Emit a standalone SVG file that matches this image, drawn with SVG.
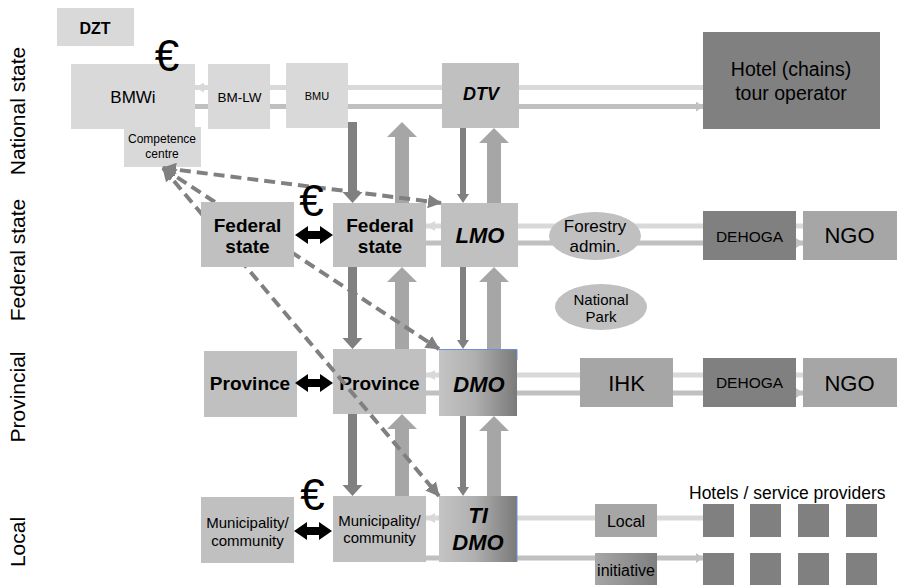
<svg xmlns="http://www.w3.org/2000/svg" width="897" height="585" viewBox="0 0 897 585">
  <defs>
    <style>
      text { font-family: "Liberation Sans", Arial, sans-serif; fill: #000; }
      .c { text-anchor: middle; }
      .b { font-weight: bold; }
      .bi { font-weight: bold; font-style: italic; }
      .pale { fill: #d9d9d9; }
      .mid { fill: #c0c0c0; }
      .grey { fill: #a6a6a6; }
      .dark { fill: #808080; }
      .lnLight { stroke: #d9d9d9; stroke-width: 5; fill: none; }
      .lnMid { stroke: #c0c0c0; stroke-width: 5; fill: none; }
      .down { fill: #808080; }
      .up { fill: #a6a6a6; }
      .dash { stroke: #808080; stroke-width: 4; stroke-dasharray: 11 6; fill: none; }
      .euro { font-size: 44px; text-anchor: middle; }
      .tier { font-size: 21px; text-anchor: middle; }
    </style>
    <linearGradient id="gradDmo" x1="0" y1="0" x2="1" y2="0">
      <stop offset="0" stop-color="#c4c4c4"/>
      <stop offset="0.45" stop-color="#b0b0b0"/>
      <stop offset="1" stop-color="#7a7a7a"/>
    </linearGradient>
    <linearGradient id="gradInit" x1="0" y1="0" x2="1" y2="0">
      <stop offset="0" stop-color="#a6a6a6"/>
      <stop offset="1" stop-color="#7f7f7f"/>
    </linearGradient>
    <marker id="headLight" markerUnits="userSpaceOnUse" viewBox="0 0 9 10" refX="9" refY="5" markerWidth="9" markerHeight="10" orient="auto-start-reverse">
      <path d="M0,0 L9,5 L0,10 Z" fill="#d9d9d9"/>
    </marker>
    <marker id="headMid" markerUnits="userSpaceOnUse" viewBox="0 0 7 10" refX="7" refY="5" markerWidth="7" markerHeight="10" orient="auto">
      <path d="M0,0 L7,5 L0,10 Z" fill="#c0c0c0"/>
    </marker>
    <marker id="headDash" markerUnits="userSpaceOnUse" viewBox="0 0 14 14" refX="13" refY="7" markerWidth="14" markerHeight="14" orient="auto-start-reverse">
      <path d="M0,0 L14,7 L0,14 Z" fill="#808080"/>
    </marker>
    <path id="twoWay" d="M-19,0 L-6,-9 V-4 H6 V-9 L19,0 L6,9 V4 H-6 V9 Z" fill="#000"/>
  </defs>

  <rect width="897" height="585" fill="#fff"/>

  <!-- tier labels -->
  <g id="tiers">
    <text class="tier" transform="translate(25,111) rotate(-90)">National state</text>
    <text class="tier" transform="translate(25,260) rotate(-90)">Federal state</text>
    <text class="tier" transform="translate(25,397) rotate(-90)">Provincial</text>
    <text class="tier" transform="translate(25,542) rotate(-90)">Local</text>
  </g>

  <!-- horizontal flows -->
  <g id="flows">
    <line class="lnLight" x1="195" y1="87.5" x2="703" y2="87.5" marker-start="url(#headLight)"/>
    <line class="lnMid" x1="195" y1="106.5" x2="703" y2="106.5" marker-end="url(#headMid)"/>
    <line class="lnLight" x1="426" y1="226" x2="803" y2="226" marker-start="url(#headLight)"/>
    <line class="lnMid" x1="426" y1="243" x2="803" y2="243" marker-end="url(#headMid)"/>
    <line class="lnLight" x1="426" y1="375" x2="803" y2="375" marker-start="url(#headLight)"/>
    <line class="lnMid" x1="426" y1="393" x2="803" y2="393" marker-end="url(#headMid)"/>
    <line class="lnLight" x1="426" y1="518" x2="703" y2="518" marker-start="url(#headLight)"/>
    <line class="lnMid" x1="426" y1="558" x2="703" y2="558" marker-end="url(#headMid)"/>
  </g>

  <!-- national level -->
  <g id="dzt"><rect class="pale" x="57" y="8" width="77" height="38"/><text class="c b" x="95" y="34" font-size="16">DZT</text></g>
  <g id="bmwi"><rect class="pale" x="71" y="64" width="124" height="65"/><text class="c" x="133" y="103" font-size="17">BMWi</text></g>
  <g id="bmlw"><rect class="pale" x="208" y="64" width="62" height="65"/><text class="c" x="239.5" y="102" font-size="13.5">BM-LW</text></g>
  <g id="bmu"><rect class="pale" x="286" y="63" width="62" height="65"/><text class="c" x="317" y="100" font-size="11">BMU</text></g>
  <g id="competence"><rect class="pale" x="124" y="127" width="77" height="40"/><text class="c" x="162" y="143" font-size="12">Competence</text><text class="c" x="162" y="158" font-size="12">centre</text></g>
  <g id="dtv"><rect class="mid" x="442" y="63" width="77" height="65"/><text class="c bi" x="481" y="100" font-size="18">DTV</text></g>
  <g id="hotel"><rect class="dark" x="703" y="32" width="177" height="97"/><text class="c" x="791" y="76" font-size="19.5">Hotel (chains)</text><text class="c" x="791" y="100" font-size="19.5">tour operator</text></g>

  <!-- federal state level -->
  <g id="federal-center"><rect class="mid" x="333" y="203" width="93" height="64"/><text class="c b" x="380" y="232" font-size="19">Federal</text><text class="c b" x="380" y="253" font-size="19">state</text></g>
  <g id="lmo"><rect class="mid" x="441" y="203" width="77" height="64"/><text class="c bi" x="480" y="243" font-size="22">LMO</text></g>
  <g id="forestry"><ellipse class="mid" cx="595" cy="236" rx="46" ry="24"/><text class="c" x="595" y="232" font-size="17">Forestry</text><text class="c" x="595" y="252" font-size="17">admin.</text></g>
  <g id="national-park"><ellipse class="mid" cx="601" cy="307" rx="46" ry="23"/><text class="c" x="601" y="305" font-size="15">National</text><text class="c" x="601" y="322" font-size="15">Park</text></g>
  <g id="dehoga-federal"><rect class="dark" x="703" y="211" width="93" height="49"/><text class="c" x="749.5" y="242" font-size="15.5">DEHOGA</text></g>
  <g id="ngo-federal"><rect class="grey" x="803" y="211" width="94" height="49"/><text class="c" x="849.5" y="243" font-size="22">NGO</text></g>

  <!-- provincial level -->
  <g id="province-left"><rect class="mid" x="204" y="351" width="93" height="66"/><text class="c b" x="250" y="390" font-size="19">Province</text></g>
  <g id="province-center"><rect class="mid" x="333" y="349" width="93" height="65"/><text class="c b" x="379.5" y="390" font-size="19">Province</text></g>
  <g id="dmo"><rect x="439" y="349" width="78" height="67" fill="url(#gradDmo)"/><path d="M439,349.5 H517 V360" stroke="#6f8fd8" stroke-width="1" fill="none"/><text class="c bi" x="479" y="392" font-size="22">DMO</text></g>
  <g id="ihk"><rect class="grey" x="580" y="358" width="93" height="49"/><text class="c" x="626.5" y="391" font-size="22">IHK</text></g>
  <g id="dehoga-provincial"><rect class="dark" x="703" y="358" width="93" height="49"/><text class="c" x="749.5" y="388" font-size="15.5">DEHOGA</text></g>
  <g id="ngo-provincial"><rect class="grey" x="803" y="358" width="94" height="49"/><text class="c" x="849.5" y="391" font-size="22">NGO</text></g>

  <!-- local level -->
  <g id="municipality-left"><rect class="mid" x="201" y="497" width="93" height="66"/><text class="c" x="247.5" y="528" font-size="15">Municipality/</text><text class="c" x="247.5" y="546" font-size="15">community</text></g>
  <g id="municipality-center"><rect class="mid" x="333" y="496" width="93" height="66"/><text class="c" x="379.5" y="526" font-size="15">Municipality/</text><text class="c" x="379.5" y="543" font-size="15">community</text></g>
  <g id="ti-dmo"><rect x="439" y="496" width="78" height="66" fill="url(#gradDmo)"/><line x1="517" y1="496" x2="517" y2="562" stroke="#6f8fd8" stroke-width="1"/><text class="c bi" x="478" y="523" font-size="22">TI</text><text class="c bi" x="478" y="550" font-size="22">DMO</text></g>
  <g id="local-box"><rect class="grey" x="595" y="504" width="62" height="33"/><text class="c" x="626" y="527" font-size="16">Local</text></g>
  <g id="initiative-box"><rect x="595" y="553" width="62" height="32" fill="url(#gradInit)"/><text class="c" x="626" y="576" font-size="16">initiative</text></g>
  <g id="providers">
    <text x="689" y="499" font-size="17.5">Hotels / service providers</text>
    <rect class="dark" x="703" y="504" width="31" height="33"/>
    <rect class="dark" x="750" y="504" width="31" height="33"/>
    <rect class="dark" x="798" y="504" width="31" height="33"/>
    <rect class="dark" x="846" y="504" width="31" height="33"/>
    <rect class="dark" x="703" y="553" width="31" height="32"/>
    <rect class="dark" x="750" y="553" width="31" height="32"/>
    <rect class="dark" x="798" y="553" width="31" height="32"/>
    <rect class="dark" x="846" y="553" width="31" height="32"/>
  </g>

  <!-- vertical funding / reporting arrows, bilateral links, dashed links -->
  <g id="connectors">
    <path class="down" d="M348,122 H357 V192 H362.5 L352.5,203 L342.5,192 H348 Z"/>
    <path class="down" d="M348,267 H357 V338 H362.5 L352.5,349 L342.5,338 H348 Z"/>
    <path class="down" d="M348,414 H357 V485 H362.5 L352.5,496 L342.5,485 H348 Z"/>
    <path class="down" d="M460,128 H466 V194 H469 L463,203 L457,194 H460 Z"/>
    <path class="down" d="M460,267 H466 V340 H469 L463,349 L457,340 H460 Z"/>
    <path class="down" d="M460,416 H466 V487 H469 L463,496 L457,487 H460 Z"/>
    <path class="up" d="M395,203 V137 H387 L402,122 L417,137 H409 V203 Z"/>
    <path class="up" d="M395,349 V282 H387 L402,267 L417,282 H409 V349 Z"/>
    <path class="up" d="M395,496 V429 H387 L402,414 L417,429 H409 V496 Z"/>
    <path class="up" d="M487,203 V143 H479 L494,128 L509,143 H501 V203 Z"/>
    <path class="up" d="M487,349 V282 H479 L494,267 L509,282 H501 V349 Z"/>
    <path class="up" d="M487,496 V431 H479 L494,416 L509,431 H501 V496 Z"/>

    <use href="#twoWay" x="314" y="235"/>
    <use href="#twoWay" x="314" y="383"/>
    <use href="#twoWay" x="313" y="531"/>

    <line class="dash" x1="163" y1="168" x2="441" y2="203" marker-start="url(#headDash)" marker-end="url(#headDash)"/>
    <line class="dash" x1="163" y1="168" x2="439" y2="349" marker-start="url(#headDash)" marker-end="url(#headDash)"/>
    <line class="dash" x1="163" y1="168" x2="439" y2="496" marker-start="url(#headDash)" marker-end="url(#headDash)"/>
  </g>

  <!-- left federal state sits above the dashed links -->
  <g id="federal-left"><rect class="mid" x="201" y="202" width="93" height="65"/><text class="c b" x="247.5" y="232" font-size="19">Federal</text><text class="c b" x="247.5" y="253" font-size="19">state</text></g>

  <!-- funding symbols -->
  <g id="funding">
    <text class="euro" x="167" y="71">€</text>
    <text class="euro" x="311.5" y="216">€</text>
    <text class="euro" x="312.5" y="510">€</text>
  </g>
</svg>
